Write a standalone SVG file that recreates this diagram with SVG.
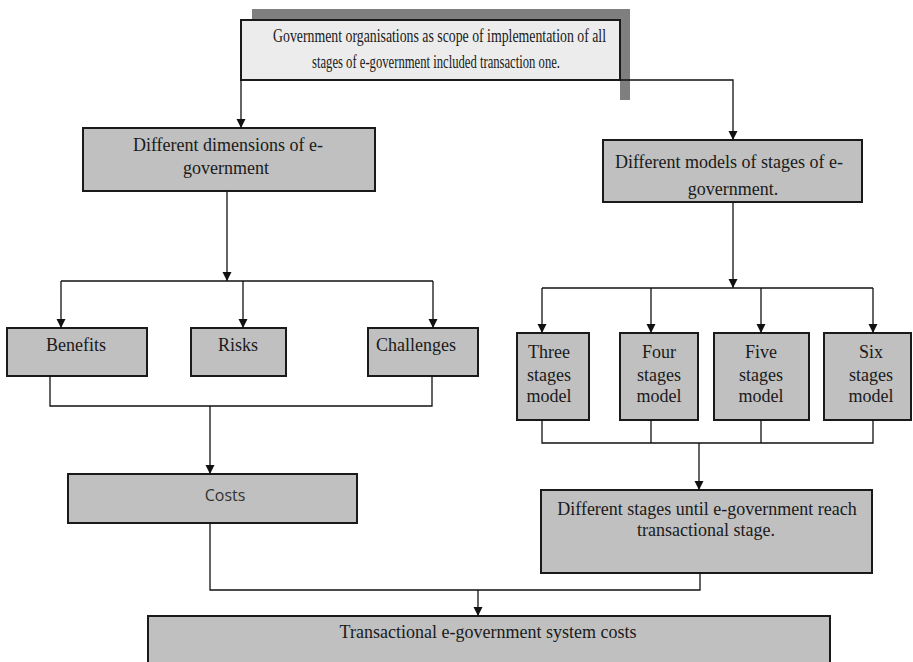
<svg xmlns="http://www.w3.org/2000/svg" width="913" height="662" viewBox="0 0 913 662">
<style>
.box{fill:#c0c0c0;stroke:#1a1a1a;stroke-width:2}
.t{font-family:"Liberation Serif","Times New Roman",serif;font-size:18px;fill:#1a1a1a;text-anchor:middle}
.s{font-family:"Open Sans","Liberation Sans",sans-serif;font-size:16px;fill:#333;text-anchor:middle}
.c{fill:none;stroke:#111;stroke-width:1.3}
</style>
<defs>
<marker id="ah" markerUnits="userSpaceOnUse" markerWidth="10" markerHeight="10" refX="9" refY="5" orient="auto">
<path d="M0,0.5 L9,5 L0,9.5 z" fill="#111"/>
</marker>
</defs>
<rect width="913" height="662" fill="#fff"/>
<g id="top">
<path d="M252,9 H630 V100 H620 V20 H252 z" fill="#7f7f7f"/>
<rect x="241" y="20" width="379" height="60" fill="#ececec" stroke="#1a1a1a" stroke-width="2"/>
<text class="t" x="439.5" y="42" font-size="16" textLength="333" lengthAdjust="spacingAndGlyphs">Government  organisations as scope of implementation  of all</text>
<text class="t" x="436" y="68" font-size="16" textLength="248" lengthAdjust="spacingAndGlyphs">stages of e-government included transaction one.</text>
</g>
<g id="dims">
<rect class="box" x="83" y="128" width="292" height="63"/>
<text class="t" x="228" y="151">Different dimensions of e-</text>
<text class="t" x="226" y="174">government</text>
</g>
<g id="models">
<rect class="box" x="603" y="140" width="259" height="62"/>
<text class="t" x="729" y="168">Different models of stages of e-</text>
<text class="t" x="733" y="195">government.</text>
</g>
<g id="benefits">
<rect class="box" x="7" y="328" width="140" height="48"/>
<text class="t" x="76" y="351">Benefits</text>
</g>
<g id="risks">
<rect class="box" x="191" y="328" width="95" height="48"/>
<text class="t" x="238" y="351">Risks</text>
</g>
<g id="challenges">
<rect class="box" x="368" y="328" width="110" height="48"/>
<text class="t" x="416" y="351">Challenges</text>
</g>
<g id="three">
<rect class="box" x="517" y="333" width="72" height="87"/>
<text class="t" x="549" y="358">Three</text>
<text class="t" x="549" y="381">stages</text>
<text class="t" x="549" y="402">model</text>
</g>
<g id="four">
<rect class="box" x="620" y="333" width="78" height="87"/>
<text class="t" x="659" y="358">Four</text>
<text class="t" x="659" y="381">stages</text>
<text class="t" x="659" y="402">model</text>
</g>
<g id="five">
<rect class="box" x="714" y="333" width="95" height="87"/>
<text class="t" x="761" y="358">Five</text>
<text class="t" x="761" y="381">stages</text>
<text class="t" x="761" y="402">model</text>
</g>
<g id="six">
<rect class="box" x="824" y="333" width="87" height="87"/>
<text class="t" x="871" y="358">Six</text>
<text class="t" x="871" y="381">stages</text>
<text class="t" x="871" y="402">model</text>
</g>
<g id="costs">
<rect class="box" x="68" y="474" width="289" height="49"/>
<text class="s" x="225" y="501">Costs</text>
</g>
<g id="stages">
<rect class="box" x="541" y="490" width="331" height="83" stroke-width="2.5"/>
<text class="t" x="707" y="515">Different stages until e-government reach</text>
<text class="t" x="706" y="536">transactional stage.</text>
</g>
<g id="final">
<rect class="box" x="148" y="616" width="682" height="60"/>
<text class="t" x="488" y="638" font-size="16.5">Transactional e-government system costs</text>
</g>
<g id="connectors">
<path class="c" d="M241,80 V128" marker-end="url(#ah)"/>
<path class="c" d="M620,80 H733 V140" marker-end="url(#ah)"/>
<path class="c" d="M227,191 V281" marker-end="url(#ah)"/>
<path class="c" d="M61,281 H433"/>
<path class="c" d="M61,281 V328" marker-end="url(#ah)"/>
<path class="c" d="M243,281 V328" marker-end="url(#ah)"/>
<path class="c" d="M433,281 V328" marker-end="url(#ah)"/>
<path class="c" d="M733,202 V288" marker-end="url(#ah)"/>
<path class="c" d="M542,288 H873"/>
<path class="c" d="M542,288 V333" marker-end="url(#ah)"/>
<path class="c" d="M651,288 V333" marker-end="url(#ah)"/>
<path class="c" d="M761,288 V333" marker-end="url(#ah)"/>
<path class="c" d="M873,288 V333" marker-end="url(#ah)"/>
<path class="c" d="M50,376 V406 H432 V376"/>
<path class="c" d="M210,406 V474" marker-end="url(#ah)"/>
<path class="c" d="M542,420 V443 H873 V420 M651,420 V443 M761,420 V443"/>
<path class="c" d="M699,443 V490" marker-end="url(#ah)"/>
<path class="c" d="M210,523 V590 H700 V573"/>
<path class="c" d="M478,590 V616" marker-end="url(#ah)"/>
</g>
</svg>
